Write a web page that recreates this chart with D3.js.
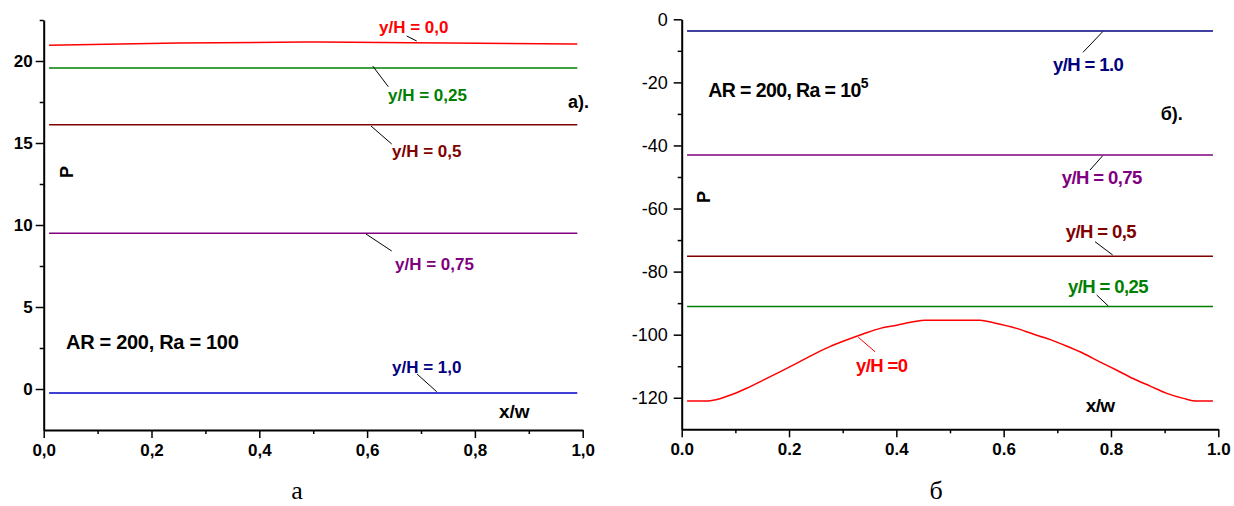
<!DOCTYPE html>
<html><head><meta charset="utf-8">
<script src="https://cdn.jsdelivr.net/npm/d3@7"></script>
<style>
html,body{margin:0;padding:0;background:#fff;}
svg{display:block;}
text{font-family:"Liberation Sans",Arial,sans-serif;}
</style></head>
<body>
<svg id="c" width="1234" height="506"></svg>
<script>
// ---------- DATA ----------
// Panel а (AR = 200, Ra = 100)
const xFlat = [0.01, 0.99];
const leftRedX = [0.01, 0.25, 0.5, 0.75, 0.99];
const leftRedP = [20.96, 21.09, 21.16, 21.10, 21.04];
const leftSeries = [
  {name: "y/H = 0,25", x: xFlat, p: [19.57, 19.57]},
  {name: "y/H = 0,5",  x: xFlat, p: [16.12, 16.12]},
  {name: "y/H = 0,75", x: xFlat, p: [9.49, 9.49]},
  {name: "y/H = 1,0",  x: xFlat, p: [-0.24, -0.24]}
];
const leftYTicks = [0, 5, 10, 15, 20];
const leftYMinor = [2.5, 7.5, 12.5, 17.5, 22.5];
const xTicks = [0, 0.2, 0.4, 0.6, 0.8, 1.0];
const xMinor = [0.1, 0.3, 0.5, 0.7, 0.9];

// Panel б (AR = 200, Ra = 10^5)
const rightRedX = [0.01, 0.05, 0.09, 0.121, 0.152, 0.183, 0.214, 0.245, 0.276, 0.307, 0.338, 0.370, 0.401, 0.432, 0.453, 0.5, 0.556, 0.581, 0.624, 0.655, 0.686, 0.717, 0.748, 0.779, 0.810, 0.841, 0.873, 0.904, 0.935, 0.956, 0.99];
const rightRedP = [-121.0, -121.0, -119.2, -117.0, -114.4, -111.8, -109.1, -106.3, -103.8, -101.7, -99.8, -98.0, -97.0, -95.9, -95.4, -95.4, -95.4, -96.2, -98.0, -99.8, -101.5, -103.6, -105.9, -108.6, -111.2, -113.9, -116.3, -118.6, -120.2, -121.0, -121.0];
const rightSeries = [
  {name: "y/H = 1.0",  x: xFlat, p: [-3.7, -3.7]},
  {name: "y/H = 0,75", x: xFlat, p: [-43.0, -43.0]},
  {name: "y/H = 0,5",  x: xFlat, p: [-75.1, -75.1]},
  {name: "y/H = 0,25", x: xFlat, p: [-91.1, -91.1]}
];
const rightYTicks = [0, -20, -40, -60, -80, -100, -120];
const rightYMinor = [-10, -30, -50, -70, -90, -110];

// ---------- DRAW ----------
const svg = d3.select("#c");
const RED = "#ff0000", GREEN = "#008000", DRED = "#800000", PURP = "#800080";

function panel(opts) {
  const g = svg.append("g");
  const x = d3.scaleLinear().domain([0, 1]).range(opts.xr);
  const y = d3.scaleLinear().domain(opts.yd).range(opts.yr);
  const yBottom = opts.yr[0];

  g.append("g").attr("transform", `translate(${opts.xr[0]},0)`)
    .call(d3.axisLeft(y).tickValues(opts.yMinor).tickSize(4).tickFormat(""))
    .call(s => s.select(".domain").remove())
    .call(s => s.selectAll("line").attr("stroke", "#000").attr("stroke-width", 1.5));
  g.append("g").attr("transform", `translate(0,${yBottom})`)
    .call(d3.axisBottom(x).tickValues(xMinor).tickSize(4).tickFormat(""))
    .call(s => s.select(".domain").remove())
    .call(s => s.selectAll("line").attr("stroke", "#000").attr("stroke-width", 1.5));

  const ya = g.append("g").attr("transform", `translate(${opts.xr[0]},0)`)
    .call(d3.axisLeft(y).tickValues(opts.yTicks).tickSize(8).tickSizeOuter(0)
      .tickPadding(opts.yPad).tickFormat(d => String(d)));
  ya.select(".domain").attr("stroke", "#000").attr("stroke-width", 2);
  ya.selectAll("line").attr("stroke", "#000").attr("stroke-width", 1.5);
  ya.selectAll("text").attr("fill", "#000")
    .style("font-family", '"Liberation Sans",Arial,sans-serif')
    .style("font-size", opts.yFont + "px").style("font-weight", opts.yBold ? "bold" : "normal");

  const xa = g.append("g").attr("transform", `translate(0,${yBottom})`)
    .call(d3.axisBottom(x).tickValues(xTicks).tickSize(8).tickSizeOuter(0).tickPadding(6)
      .tickFormat(d => d3.format(".1f")(d).replace(".", opts.dec)));
  xa.select(".domain").attr("stroke", "#000").attr("stroke-width", 2);
  xa.selectAll("line").attr("stroke", "#000").attr("stroke-width", 1.5);
  xa.selectAll("text").attr("fill", "#000")
    .style("font-family", '"Liberation Sans",Arial,sans-serif')
    .style("font-size", "17px").style("font-weight", "bold");

  return {g, x, y};
}

// Panel а
const L = panel({xr: [43.7, 582.7], yd: [-2.5, 22.5], yr: [430, 20], yTicks: leftYTicks, yMinor: leftYMinor,
  yPad: 3, yFont: 17, yBold: true, dec: ","});
const lineL = d3.line().x(d => L.x(d[0])).y(d => L.y(d[1]));
const leftColors = [GREEN, DRED, PURP, "#0000c8"];
leftSeries.forEach((s, i) => {
  L.g.append("path").datum(s.x.map((v, j) => [v, s.p[j]]))
    .attr("d", lineL).attr("fill", "none").attr("stroke", leftColors[i]).attr("stroke-width", 1.5);
});
L.g.append("path").datum(leftRedX.map((v, j) => [v, leftRedP[j]]))
  .attr("d", lineL.curve(d3.curveMonotoneX)).attr("fill", "none").attr("stroke", RED).attr("stroke-width", 1.5);

// Panel б
const R = panel({xr: [681.7, 1218.3], yd: [-130, 0], yr: [429.3, 19.3], yTicks: rightYTicks, yMinor: rightYMinor,
  yPad: 6, yFont: 18, yBold: false, dec: "."});
const lineR = d3.line().x(d => R.x(d[0])).y(d => R.y(d[1]));
const rightColors = ["#000080", PURP, DRED, GREEN];
rightSeries.forEach((s, i) => {
  R.g.append("path").datum(s.x.map((v, j) => [v, s.p[j]]))
    .attr("d", lineR).attr("fill", "none").attr("stroke", rightColors[i]).attr("stroke-width", 1.5);
});
R.g.append("path").datum(rightRedX.map((v, j) => [v, rightRedP[j]]))
  .attr("d", lineR.curve(d3.curveMonotoneX)).attr("fill", "none").attr("stroke", RED).attr("stroke-width", 1.5);

// ---------- ANNOTATIONS ----------
function leader(x1, y1, x2, y2, c) {
  svg.append("line").attr("x1", x1).attr("y1", y1).attr("x2", x2).attr("y2", y2)
    .attr("stroke", c || "#000").attr("stroke-width", 1);
}
function label(t, xx, yy, c, size, extra) {
  const el = svg.append("text").attr("x", xx).attr("y", yy).attr("fill", c)
    .style("font-size", size + "px").style("font-weight", "bold").text(t);
  if (extra) extra(el);
  return el;
}
// left
label("y/H = 0,0", 379, 33, RED, 17); leader(406.7, 36, 416.7, 41);
label("y/H = 0,25", 388, 100.7, GREEN, 17); leader(372.7, 66, 388.3, 86.7);
label("а).", 568, 108, "#000", 18);
label("y/H = 0,5", 392, 156.7, DRED, 17); leader(371, 126, 391.7, 144);
label("y/H = 0,75", 395, 270, PURP, 17); leader(366, 234, 391.7, 251);
label("y/H = 1,0", 392, 373, "#000080", 17); leader(417, 374, 436.7, 391.7);
label("x/w", 499, 418, "#000", 19);
label("AR = 200, Ra = 100", 66, 349, "#000", 20, el => el.attr("letter-spacing", "-0.3"));
svg.append("text").attr("transform", "translate(73,172) rotate(-90)").attr("text-anchor", "middle")
  .style("font-size", "18px").style("font-weight", "bold").text("P");

// right
const cond = el => el.attr("letter-spacing", "-0.6");
label("y/H = 1.0", 1053, 71, "#000080", 18.5, cond); leader(1102.7, 31.7, 1083, 52.3);
label("б).", 1160.7, 120, "#000", 18);
label("y/H = 0,75", 1061.7, 184, PURP, 18.5, cond); leader(1102.7, 155.7, 1090, 170);
label("y/H = 0,5", 1065.7, 238, DRED, 18.5, cond); leader(1095, 241.7, 1112.7, 255);
label("y/H = 0,25", 1068, 293.3, GREEN, 18.5, cond); leader(1096.7, 295, 1108.3, 306);
label("y/H =0", 856, 371.7, RED, 18.5, cond); leader(858.3, 337.3, 875, 351.7, RED);
label("x/w", 1085.7, 411.7, "#000", 19, cond);
const ar = label("AR = 200, Ra = 10", 708.3, 97.3, "#000", 19.5, cond);
ar.append("tspan").attr("dy", -9).style("font-size", "14px").text("5");
svg.append("text").attr("transform", "translate(710,197) rotate(-90)").attr("text-anchor", "middle")
  .style("font-size", "18px").style("font-weight", "bold").text("P");

// captions
svg.append("text").attr("x", 297).attr("y", 499).attr("text-anchor", "middle")
  .style("font-family", '"Liberation Serif","Times New Roman",serif').style("font-size", "26px").text("а");
svg.append("text").attr("x", 936).attr("y", 499).attr("text-anchor", "middle")
  .style("font-family", '"Liberation Serif","Times New Roman",serif').style("font-size", "26px").text("б");
</script>
</body></html>
